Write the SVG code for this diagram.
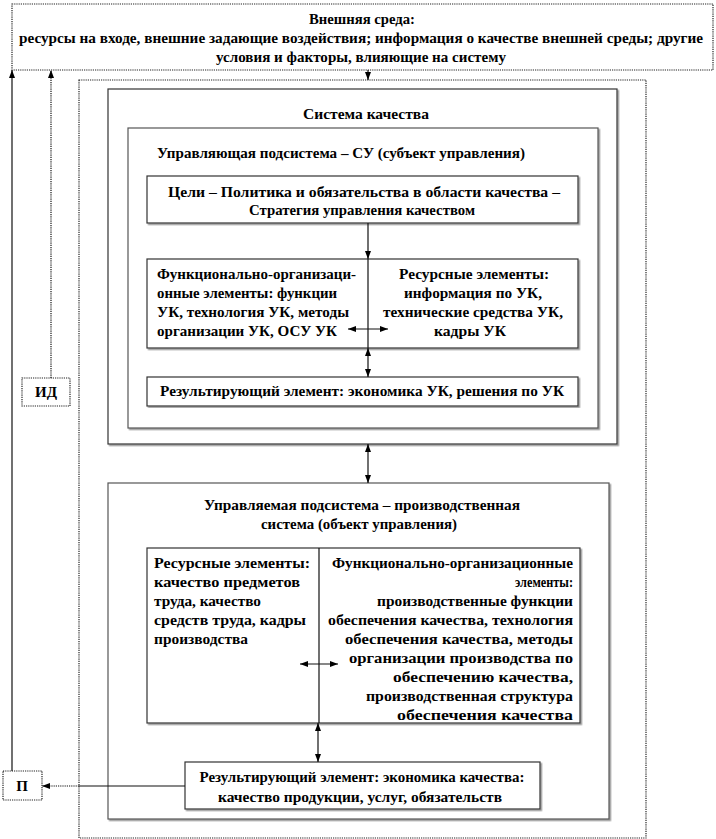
<svg xmlns="http://www.w3.org/2000/svg" width="716" height="839" viewBox="0 0 716 839" font-family="'Liberation Serif', 'DejaVu Serif', serif">
<style>
text{font-family:"Liberation Serif","DejaVu Serif",serif;font-weight:bold;font-size:15px;fill:#000}
.c{text-anchor:middle}
.r{text-anchor:end}
.box{fill:#fff;stroke:#333;stroke-width:1.2}
.sh{filter:url(#shadow)}
.dot{fill:#fff;stroke:#222;stroke-width:1.2;stroke-dasharray:1.2 1}
.ln{fill:none;stroke:#111;stroke-width:1.2}
.dl{fill:none;stroke:#111;stroke-width:1.2;stroke-dasharray:1.2 1}
</style>
<defs>
<filter id="shadow" x="-5%" y="-5%" width="110%" height="110%">
<feDropShadow dx="1.5" dy="1.5" stdDeviation="0" flood-color="#999"/>
</filter>
<marker id="ah" viewBox="0 0 8 6" refX="8" refY="3" markerWidth="8" markerHeight="6" markerUnits="userSpaceOnUse" orient="auto-start-reverse">
<path d="M0,0 L8,3 L0,6 z" fill="#000"/>
</marker>
</defs>
<rect width="716" height="839" fill="#fff"/>

<g id="outer-env">
<rect class="dot" x="12" y="4" width="701" height="66"/>
<text class="c" x="362" y="24" textLength="106" lengthAdjust="spacingAndGlyphs">Внешняя среда:</text>
<text class="c" x="361" y="43" textLength="684" lengthAdjust="spacingAndGlyphs">ресурсы на входе, внешние задающие воздействия; информация о качестве внешней среды; другие</text>
<text class="c" x="361" y="62" textLength="290" lengthAdjust="spacingAndGlyphs">условия и факторы, влияющие на систему</text>
</g>

<g id="enterprise">
<rect class="dot" x="79" y="80" width="567" height="758"/>
</g>

<g id="quality-system">
<rect class="box sh" x="108" y="89" width="509" height="355"/>
<text class="c" x="366" y="119" textLength="126" lengthAdjust="spacingAndGlyphs">Система качества</text>
</g>

<g id="control-subsystem">
<rect class="box sh" x="128" y="128" width="470" height="300" style="stroke:#555"/>
<text x="157" y="158" textLength="368" lengthAdjust="spacingAndGlyphs">Управляющая подсистема – СУ (субъект управления)</text>
</g>

<g id="goals">
<rect class="box sh" x="147" y="176" width="431" height="47"/>
<text class="c" x="364" y="197" textLength="392" lengthAdjust="spacingAndGlyphs">Цели – Политика и обязательства в области качества –</text>
<text class="c" x="362" y="215" textLength="226" lengthAdjust="spacingAndGlyphs">Стратегия управления качеством</text>
</g>

<g id="control-elements">
<rect class="box sh" x="147" y="259" width="431" height="89"/>
<line class="ln" x1="368" y1="259" x2="368" y2="348"/>
<text x="157" y="279" textLength="199" lengthAdjust="spacingAndGlyphs">Функционально-организаци-</text>
<text x="157" y="298" textLength="180" lengthAdjust="spacingAndGlyphs">онные элементы: функции</text>
<text x="157" y="317" textLength="192" lengthAdjust="spacingAndGlyphs">УК, технология УК, методы</text>
<text x="157" y="336" textLength="180" lengthAdjust="spacingAndGlyphs">организации УК, ОСУ УК</text>
<text class="c" x="474" y="279" textLength="150" lengthAdjust="spacingAndGlyphs">Ресурсные элементы:</text>
<text class="c" x="473" y="298" textLength="138" lengthAdjust="spacingAndGlyphs">информация по УК,</text>
<text class="c" x="473" y="317" textLength="180" lengthAdjust="spacingAndGlyphs">технические средства УК,</text>
<text class="c" x="470" y="336" textLength="72" lengthAdjust="spacingAndGlyphs">кадры УК</text>
</g>

<g id="control-result">
<rect class="box sh" x="147" y="377" width="431" height="29"/>
<text class="c" x="362" y="396" textLength="404" lengthAdjust="spacingAndGlyphs">Результирующий  элемент: экономика УК, решения по УК</text>
</g>

<g id="managed-subsystem">
<rect class="box sh" x="108" y="483" width="501" height="336" style="stroke:#555"/>
<text class="c" x="362" y="510" textLength="316" lengthAdjust="spacingAndGlyphs">Управляемая подсистема – производственная</text>
<text class="c" x="359" y="529" textLength="196" lengthAdjust="spacingAndGlyphs">система (объект управления)</text>
</g>

<g id="production-elements">
<rect class="box sh" x="147" y="548" width="433" height="175"/>
<line class="ln" x1="319" y1="548" x2="319" y2="723"/>
<text x="154" y="568" textLength="156" lengthAdjust="spacingAndGlyphs">Ресурсные элементы:</text>
<text x="154" y="587" textLength="146" lengthAdjust="spacingAndGlyphs">качество предметов</text>
<text x="154" y="606" textLength="107" lengthAdjust="spacingAndGlyphs">труда, качество</text>
<text x="154" y="625" textLength="152" lengthAdjust="spacingAndGlyphs">средств труда, кадры</text>
<text x="154" y="644" textLength="94" lengthAdjust="spacingAndGlyphs">производства</text>
<text class="r" x="573" y="568" textLength="241" lengthAdjust="spacingAndGlyphs">Функционально-организационные</text>
<text class="r" x="573" y="587" textLength="58" lengthAdjust="spacingAndGlyphs">элементы:</text>
<text class="r" x="573" y="606" textLength="196" lengthAdjust="spacingAndGlyphs">производственные функции</text>
<text class="r" x="573" y="625" textLength="245" lengthAdjust="spacingAndGlyphs">обеспечения качества, технология</text>
<text class="r" x="573" y="644" textLength="228" lengthAdjust="spacingAndGlyphs">обеспечения качества, методы</text>
<text class="r" x="573" y="663" textLength="224" lengthAdjust="spacingAndGlyphs">организации производства по</text>
<text class="r" x="573" y="682" textLength="180" lengthAdjust="spacingAndGlyphs">обеспечению качества,</text>
<text class="r" x="573" y="701" textLength="207" lengthAdjust="spacingAndGlyphs">производственная структура</text>
<text class="r" x="573" y="720" textLength="176" lengthAdjust="spacingAndGlyphs">обеспечения качества</text>
</g>

<g id="production-result">
<rect class="box sh" x="185" y="762" width="355" height="47"/>
<text class="c" x="362" y="782" textLength="325" lengthAdjust="spacingAndGlyphs">Результирующий  элемент: экономика качества:</text>
<text class="c" x="360" y="802" textLength="284" lengthAdjust="spacingAndGlyphs">качество продукции, услуг,  обязательств</text>
</g>

<g id="ID">
<rect class="dot" x="22" y="378" width="48" height="28"/>
<text class="c" x="46" y="397">ИД</text>
</g>

<g id="P">
<rect class="dot" x="3" y="771" width="39" height="29"/>
<text class="c" x="22" y="791">П</text>
</g>

<g id="connectors">
<line class="ln" x1="368" y1="70" x2="368" y2="80" marker-end="url(#ah)"/>
<line class="ln" x1="368" y1="223" x2="368" y2="259" marker-end="url(#ah)"/>
<line class="ln" x1="348" y1="329" x2="388" y2="329" marker-start="url(#ah)" marker-end="url(#ah)"/>
<line class="ln" x1="368" y1="348" x2="368" y2="377" marker-start="url(#ah)" marker-end="url(#ah)"/>
<line class="ln" x1="368" y1="444" x2="368" y2="483" marker-start="url(#ah)" marker-end="url(#ah)"/>
<line class="ln" x1="300" y1="664" x2="338" y2="664" marker-start="url(#ah)" marker-end="url(#ah)"/>
<line class="ln" x1="318" y1="723" x2="318" y2="762" marker-start="url(#ah)" marker-end="url(#ah)"/>
<line class="ln" x1="185" y1="786" x2="79" y2="786"/>
<line class="dl" x1="79" y1="786" x2="42" y2="786" marker-end="url(#ah)"/>
<line class="ln" x1="12" y1="771" x2="12" y2="70" marker-end="url(#ah)"/>
<line class="dl" x1="51" y1="378" x2="51" y2="70" marker-end="url(#ah)"/>
</g>
</svg>
